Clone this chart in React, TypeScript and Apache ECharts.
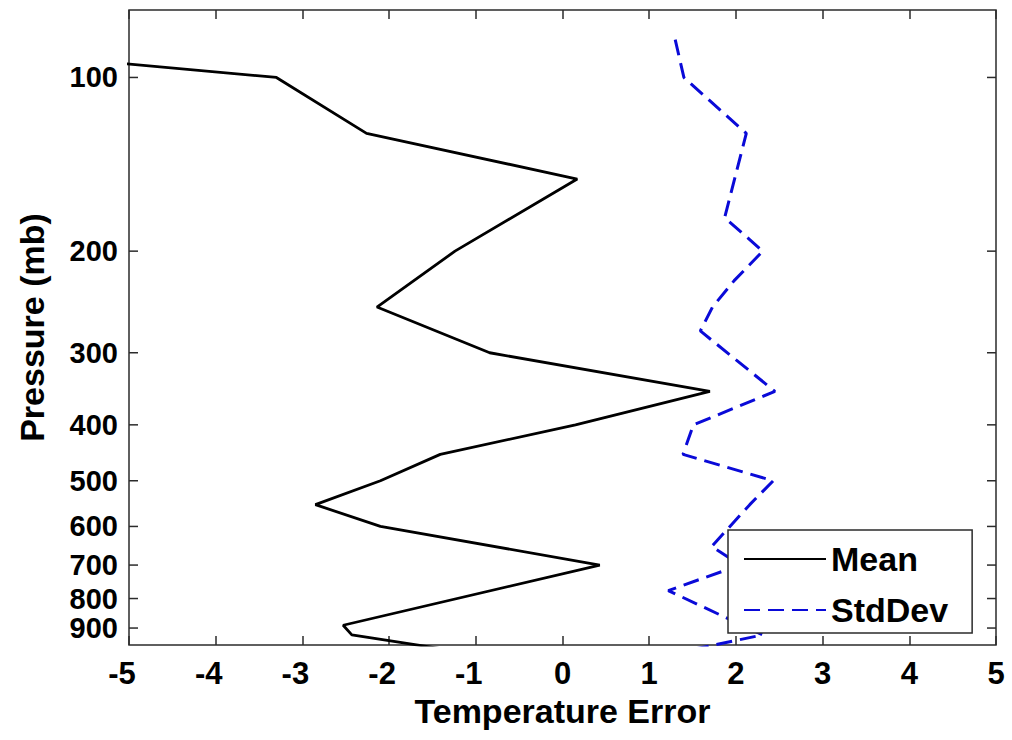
import React, { useEffect, useRef } from 'react';
import * as echarts from 'echarts';

// Pressure levels (mb) and values
const meanLevels = [86, 100, 125, 150, 200, 250, 300, 350, 400, 450, 500, 550, 600, 700, 890, 925, 1000];
const meanError = [-8.1, -3.3, -2.26, 0.17, -1.24, -2.14, -0.84, 1.7, 0.15, -1.41, -2.1, -2.85, -2.1, 0.43, -2.53, -2.43, -0.97];

const stdLevels = [86, 100, 125, 175, 200, 225, 250, 275, 350, 400, 450, 500, 550, 650, 700, 775, 925, 1000];
const stdDev = [1.3, 1.4, 2.12, 1.87, 2.31, 1.98, 1.73, 1.59, 2.45, 1.51, 1.39, 2.43, 2.16, 1.72, 2.05, 1.22, 2.31, 1.22];

const pressureTicks = [100, 200, 300, 400, 500, 600, 700, 800, 900];

const X_MIN = -5;
const X_MAX = 5;
const P_TOP = 76.4;
const P_BOTTOM = 963;

const FONT = "'Liberation Sans', Arial, Helvetica, sans-serif";
const AXIS_COLOR = '#2b2b2b';

export default function App() {
  const ref = useRef<HTMLDivElement>(null);

  useEffect(() => {
    if (!ref.current) return;
    const chart = echarts.init(ref.current, undefined, { renderer: 'svg' });

    const meanData = meanLevels.map((p, i) => [meanError[i], p]);
    const stdData = stdLevels.map((p, i) => [stdDev[i], p]);
    const tickData = pressureTicks.map((p) => [X_MIN, p]);

    const option: any = {
      animation: false,
      backgroundColor: '#ffffff',
      grid: {
        left: 129,
        right: 16,
        top: 10,
        bottom: 95,
        show: true,
        borderColor: AXIS_COLOR,
        borderWidth: 1.5,
        backgroundColor: 'transparent',
      },
      xAxis: [
        {
          type: 'value',
          min: X_MIN,
          max: X_MAX,
          interval: 1,
          position: 'bottom',
          name: 'Temperature Error',
          nameLocation: 'middle',
          nameGap: 48,
          nameTextStyle: { fontFamily: FONT, fontWeight: 'bold', fontSize: 34, color: '#000' },
          axisLine: { show: false },
          axisTick: { show: true, inside: true, length: 9, lineStyle: { color: AXIS_COLOR, width: 1.5 } },
          splitLine: { show: false },
          axisLabel: {
            margin: 13,
            color: '#000',
            fontFamily: FONT,
            fontWeight: 'bold',
            fontSize: 31,
            formatter: (v: number) => (v < 0 ? `{n|${v}}` : `${v}`),
            rich: {
              n: { padding: [0, 14, 0, 0], fontFamily: FONT, fontWeight: 'bold', fontSize: 31, color: '#000' },
            },
          },
        },
        {
          type: 'value',
          min: X_MIN,
          max: X_MAX,
          interval: 1,
          position: 'top',
          axisLine: { show: false },
          axisTick: { show: true, inside: true, length: 9, lineStyle: { color: AXIS_COLOR, width: 1.5 } },
          axisLabel: { show: false },
          splitLine: { show: false },
        },
      ],
      yAxis: {
        type: 'log',
        logBase: 10,
        min: P_TOP,
        max: P_BOTTOM,
        inverse: true,
        name: 'Pressure (mb)',
        nameLocation: 'middle',
        nameGap: 80,
        nameTextStyle: { fontFamily: FONT, fontWeight: 'bold', fontSize: 34, color: '#000' },
        axisLine: { show: false },
        axisTick: { show: false },
        axisLabel: { show: false },
        splitLine: { show: false },
      },
      legend: {
        data: ['Mean', 'StdDev'],
        orient: 'vertical',
        left: 728,
        top: 530,
        padding: [12, 24, 6, 15],
        itemWidth: 82,
        itemHeight: 14,
        itemGap: 17,
        selectedMode: false,
        backgroundColor: '#ffffff',
        borderColor: AXIS_COLOR,
        borderWidth: 1.5,
        borderRadius: 0,
        itemStyle: { color: 'transparent', borderColor: 'transparent', borderWidth: 0, opacity: 0 },
        textStyle: { fontFamily: FONT, fontWeight: 'bold', fontSize: 34, color: '#000' },
      },
      series: [
        {
          name: 'Mean',
          type: 'line',
          xAxisIndex: 0,
          data: meanData,
          symbol: 'none',
          showSymbol: false,
          clip: true,
          lineStyle: { color: '#000000', width: 2.8, type: 'solid' },
          itemStyle: { color: '#000000' },
          z: 3,
        },
        {
          name: 'StdDev',
          type: 'line',
          xAxisIndex: 0,
          data: stdData,
          symbol: 'none',
          showSymbol: false,
          clip: true,
          lineStyle: { color: '#0a0ad8', width: 3, type: [16, 8] },
          itemStyle: { color: '#0a0ad8' },
          z: 3,
        },
        {
          name: 'pressureTicks',
          type: 'custom',
          xAxisIndex: 0,
          data: tickData,
          clip: false,
          silent: true,
          z: 5,
          renderItem: (params: any, api: any) => {
            const p = api.value(1);
            const pt = api.coord([X_MIN, p]);
            const cs = params.coordSys;
            const y = pt[1];
            const left = cs.x;
            const right = cs.x + cs.width;
            return {
              type: 'group',
              children: [
                {
                  type: 'line',
                  shape: { x1: left, y1: y, x2: left + 9, y2: y },
                  style: { stroke: AXIS_COLOR, lineWidth: 1.5 },
                },
                {
                  type: 'line',
                  shape: { x1: right - 9, y1: y, x2: right, y2: y },
                  style: { stroke: AXIS_COLOR, lineWidth: 1.5 },
                },
                {
                  type: 'text',
                  x: left - 11,
                  y: y,
                  style: {
                    text: String(p),
                    align: 'right',
                    verticalAlign: 'middle',
                    fontFamily: FONT,
                    fontWeight: 'bold',
                    fontSize: 29,
                    lineHeight: 26,
                    fill: '#000',
                  },
                },
              ],
            };
          },
        },
      ],
    };

    chart.setOption(option);
    return () => {
      chart.dispose();
    };
  }, []);

  return (
    <div
      ref={ref}
      style={{ position: 'fixed', left: 0, top: 0, width: 1012, height: 740, background: '#fff' }}
    />
  );
}
